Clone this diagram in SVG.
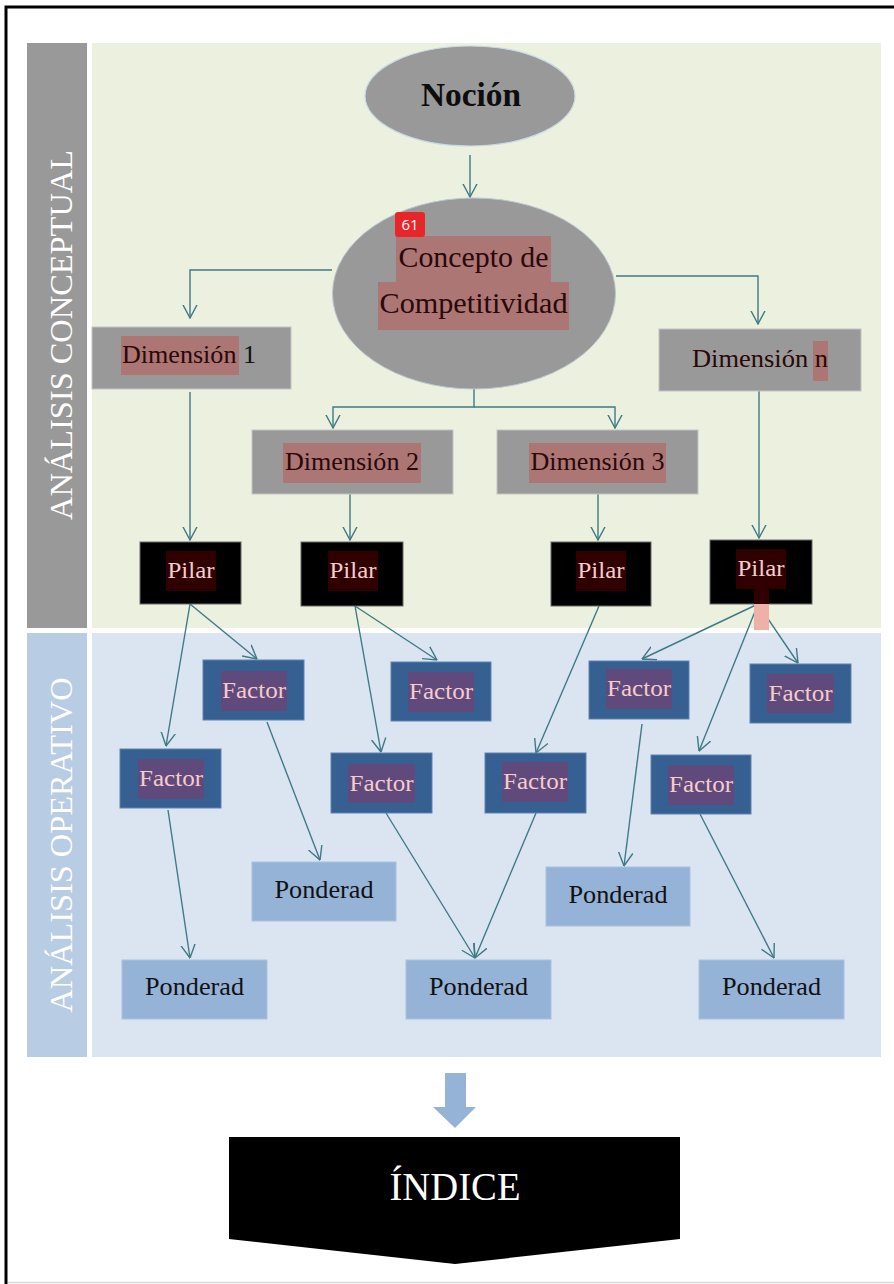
<svg xmlns="http://www.w3.org/2000/svg" width="894" height="1284" viewBox="0 0 894 1284">
  <defs>
    <marker id="vee" viewBox="0 0 14 16" markerWidth="14" markerHeight="16" refX="13.5" refY="8" orient="auto" markerUnits="userSpaceOnUse">
      <path d="M0,0.8 L13.5,8 L0,15.2" fill="none" stroke="#3f7a86" stroke-width="1.4"/>
    </marker>
  </defs>
  <style>
    .txt { font-family: "Liberation Serif", "DejaVu Serif", serif; }
    .dim { fill: #999999; stroke: #c4c4c4; stroke-width: 1; }
    .dimhl { fill: #ab7674; }
    .dimtx { font-size: 25px; fill: #2a0808; }
    .pilar { fill: #000000; stroke: #6b6b6b; stroke-width: 1; }
    .pilhl { fill: #300000; }
    .piltx { font-size: 24px; fill: #f4cdcd; }
    .factor { fill: #366092; stroke: #5f83ad; stroke-width: 1; }
    .fachl { fill: #604a7b; }
    .factx { font-size: 24px; fill: #f4cccc; }
    .pond { fill: #95b3d7; stroke: #a9c2e0; stroke-width: 1; }
    .pondtx { font-size: 25px; fill: #111111; }
    .conn path { fill: none; stroke: #3f7a86; stroke-width: 1.4; }
    .side { font-size: 31px; fill: #ffffff; }
  </style>

  <!-- page -->
  <rect x="0" y="0" width="894" height="1284" fill="#ffffff"/>
  <path d="M6,1284 V7 H894" fill="none" stroke="#000000" stroke-width="3"/>
  <line x1="8" y1="1282.5" x2="894" y2="1282.5" stroke="#d9d9d9" stroke-width="1.5"/>

  <!-- panels -->
  <g id="panel-conceptual">
    <rect x="27" y="43" width="60" height="585" fill="#999999"/>
    <rect x="92" y="43" width="789" height="585" fill="#ebf1de"/>
    <text class="txt side" transform="translate(72,335) rotate(-90)" text-anchor="middle" textLength="370" lengthAdjust="spacingAndGlyphs">ANÁLISIS CONCEPTUAL</text>
  </g>
  <g id="panel-operativo">
    <rect x="27" y="633" width="60" height="424" fill="#b8cce4"/>
    <rect x="92" y="633" width="789" height="424" fill="#dbe5f1"/>
    <text class="txt side" transform="translate(72,845) rotate(-90)" text-anchor="middle" textLength="335" lengthAdjust="spacingAndGlyphs" fill="#e4ecf6">ANÁLISIS OPERATIVO</text>
  </g>

  <!-- connectors -->
  <g id="connectors" class="conn">
    <path d="M470,155 V197" marker-end="url(#vee)"/>
    <path d="M332,270 H190 V318" marker-end="url(#vee)"/>
    <path d="M616,276 H758 V324" marker-end="url(#vee)"/>
    <path d="M474,389 V407 H333 V428" marker-end="url(#vee)"/>
    <path d="M474,407 H615 V428" marker-end="url(#vee)"/>
    <path d="M190,392 V540" marker-end="url(#vee)"/>
    <path d="M350,494 V540" marker-end="url(#vee)"/>
    <path d="M598,494 V540" marker-end="url(#vee)"/>
    <path d="M759,391 V538" marker-end="url(#vee)"/>
    <path d="M190,604 L166,746" marker-end="url(#vee)"/>
    <path d="M190,604 L257,659" marker-end="url(#vee)"/>
    <path d="M355,606 L381,752" marker-end="url(#vee)"/>
    <path d="M355,606 L437,660" marker-end="url(#vee)"/>
    <path d="M599,606 L536,753" marker-end="url(#vee)"/>
    <path d="M758,604 L642,659" marker-end="url(#vee)"/>
    <path d="M758,604 L699,751" marker-end="url(#vee)"/>
    <path d="M758,604 L798,663" marker-end="url(#vee)"/>
    <path d="M168,810 L190,958" marker-end="url(#vee)"/>
    <path d="M267,722 L320,860" marker-end="url(#vee)"/>
    <path d="M386,813 L475,958" marker-end="url(#vee)"/>
    <path d="M536,813 L475,958" marker-end="url(#vee)"/>
    <path d="M642,724 L624,866" marker-end="url(#vee)"/>
    <path d="M700,814 L774,958" marker-end="url(#vee)"/>
  </g>

  <!-- concept level -->
  <g id="nocion">
    <ellipse cx="470" cy="96" rx="105" ry="50" fill="#999999" stroke="#c9d9e6" stroke-width="1.2"/>
    <text class="txt" x="471" y="106" text-anchor="middle" font-size="33" font-weight="bold" fill="#0d0d0d" textLength="100" lengthAdjust="spacingAndGlyphs">Noción</text>
  </g>
  <g id="concepto">
    <ellipse cx="474" cy="293.5" rx="141.5" ry="95.5" fill="#999999" stroke="#b9c7cf" stroke-width="1"/>
    <rect x="396" y="236" width="155" height="47" class="dimhl"/>
    <rect x="378" y="282" width="191" height="48" class="dimhl"/>
    <text class="txt" x="473.5" y="267" text-anchor="middle" font-size="29" fill="#2a0808" textLength="150" lengthAdjust="spacingAndGlyphs">Concepto de</text>
    <text class="txt" x="473.5" y="313" text-anchor="middle" font-size="29" fill="#2a0808" textLength="188" lengthAdjust="spacingAndGlyphs">Competitividad</text>
    <rect x="395" y="212" width="30" height="25" rx="3" fill="#e8262a"/>
    <text x="410" y="230" text-anchor="middle" font-family="'Open Sans', 'DejaVu Sans', sans-serif" font-size="15" fill="#ffffff">61</text>
  </g>

  <!-- dimensions -->
  <g id="dim-1">
    <rect x="92" y="327" width="199" height="62" class="dim"/>
    <rect x="121" y="336" width="118" height="39" class="dimhl"/>
    <text class="txt dimtx" x="122" y="363" textLength="134" lengthAdjust="spacingAndGlyphs">Dimensión <tspan fill="#111111">1</tspan></text>
  </g>
  <g id="dim-n">
    <rect x="659" y="329" width="202" height="62" class="dim"/>
    <rect x="813" y="341" width="15" height="40" class="dimhl"/>
    <text class="txt dimtx" x="692" y="367" fill="#111111" textLength="136" lengthAdjust="spacingAndGlyphs">Dimensión <tspan fill="#2a0808">n</tspan></text>
  </g>
  <g id="dim-2">
    <rect x="252" y="430" width="201" height="64" class="dim"/>
    <rect x="283" y="443" width="138" height="40" class="dimhl"/>
    <text class="txt dimtx" x="352" y="470" text-anchor="middle" textLength="134" lengthAdjust="spacingAndGlyphs">Dimensión 2</text>
  </g>
  <g id="dim-3">
    <rect x="497" y="430" width="201" height="64" class="dim"/>
    <rect x="529" y="443" width="137" height="40" class="dimhl"/>
    <text class="txt dimtx" x="597.5" y="470" text-anchor="middle" textLength="134" lengthAdjust="spacingAndGlyphs">Dimensión 3</text>
  </g>

  <!-- pillars -->
  <g id="pilar-1">
    <rect x="140" y="542" width="101" height="62" class="pilar"/>
    <rect x="166" y="551" width="50" height="40" class="pilhl"/>
    <text class="txt piltx" x="191" y="578" text-anchor="middle" textLength="47" lengthAdjust="spacingAndGlyphs">Pilar</text>
  </g>
  <g id="pilar-2">
    <rect x="301" y="542" width="102" height="64" class="pilar"/>
    <rect x="328" y="551" width="50" height="40" class="pilhl"/>
    <text class="txt piltx" x="353" y="578" text-anchor="middle" textLength="47" lengthAdjust="spacingAndGlyphs">Pilar</text>
  </g>
  <g id="pilar-3">
    <rect x="551" y="542" width="100" height="64" class="pilar"/>
    <rect x="576" y="551" width="50" height="40" class="pilhl"/>
    <text class="txt piltx" x="601" y="578" text-anchor="middle" textLength="47" lengthAdjust="spacingAndGlyphs">Pilar</text>
  </g>
  <g id="pilar-n">
    <rect x="710" y="540" width="102" height="64" class="pilar"/>
    <rect x="736" y="549" width="50" height="40" class="pilhl"/>
    <rect x="754" y="589" width="15" height="15" class="pilhl"/>
    <rect x="754" y="604" width="15" height="26" fill="#eeb1a8"/>
    <text class="txt piltx" x="761" y="576" text-anchor="middle" textLength="47" lengthAdjust="spacingAndGlyphs">Pilar</text>
  </g>

  <!-- factors -->
  <g id="factor-1">
    <rect x="120" y="749" width="101" height="59" class="factor"/>
    <rect x="138" y="759" width="66" height="40" class="fachl"/>
    <text class="txt factx" x="171" y="786" text-anchor="middle" textLength="64" lengthAdjust="spacingAndGlyphs">Factor</text>
  </g>
  <g id="factor-2">
    <rect x="203" y="660" width="101" height="60" class="factor"/>
    <rect x="221" y="671" width="66" height="40" class="fachl"/>
    <text class="txt factx" x="254" y="698" text-anchor="middle" textLength="64" lengthAdjust="spacingAndGlyphs">Factor</text>
  </g>
  <g id="factor-3">
    <rect x="391" y="662" width="100" height="59" class="factor"/>
    <rect x="408" y="672" width="66" height="40" class="fachl"/>
    <text class="txt factx" x="441" y="699" text-anchor="middle" textLength="64" lengthAdjust="spacingAndGlyphs">Factor</text>
  </g>
  <g id="factor-4">
    <rect x="331" y="753" width="101" height="60" class="factor"/>
    <rect x="348" y="764" width="67" height="39" class="fachl"/>
    <text class="txt factx" x="381.5" y="791" text-anchor="middle" textLength="64" lengthAdjust="spacingAndGlyphs">Factor</text>
  </g>
  <g id="factor-5">
    <rect x="485" y="753" width="101" height="60" class="factor"/>
    <rect x="502" y="762" width="66" height="40" class="fachl"/>
    <text class="txt factx" x="535" y="789" text-anchor="middle" textLength="64" lengthAdjust="spacingAndGlyphs">Factor</text>
  </g>
  <g id="factor-6">
    <rect x="589" y="661" width="100" height="58" class="factor"/>
    <rect x="606" y="669" width="66" height="40" class="fachl"/>
    <text class="txt factx" x="639" y="696" text-anchor="middle" textLength="64" lengthAdjust="spacingAndGlyphs">Factor</text>
  </g>
  <g id="factor-7">
    <rect x="750" y="664" width="101" height="59" class="factor"/>
    <rect x="767" y="674" width="67" height="39" class="fachl"/>
    <text class="txt factx" x="800.5" y="701" text-anchor="middle" textLength="64" lengthAdjust="spacingAndGlyphs">Factor</text>
  </g>
  <g id="factor-8">
    <rect x="651" y="755" width="100" height="59" class="factor"/>
    <rect x="668" y="765" width="66" height="40" class="fachl"/>
    <text class="txt factx" x="701" y="792" text-anchor="middle" textLength="64" lengthAdjust="spacingAndGlyphs">Factor</text>
  </g>

  <!-- weightings -->
  <g id="ponderad-1">
    <rect x="122" y="960" width="145" height="59" class="pond"/>
    <text class="txt pondtx" x="194.5" y="995" text-anchor="middle" textLength="99" lengthAdjust="spacingAndGlyphs">Ponderad</text>
  </g>
  <g id="ponderad-2">
    <rect x="252" y="862" width="144" height="59" class="pond"/>
    <text class="txt pondtx" x="324" y="898" text-anchor="middle" textLength="99" lengthAdjust="spacingAndGlyphs">Ponderad</text>
  </g>
  <g id="ponderad-3">
    <rect x="406" y="960" width="145" height="59" class="pond"/>
    <text class="txt pondtx" x="478.5" y="995" text-anchor="middle" textLength="99" lengthAdjust="spacingAndGlyphs">Ponderad</text>
  </g>
  <g id="ponderad-4">
    <rect x="546" y="867" width="144" height="59" class="pond"/>
    <text class="txt pondtx" x="618" y="903" text-anchor="middle" textLength="99" lengthAdjust="spacingAndGlyphs">Ponderad</text>
  </g>
  <g id="ponderad-5">
    <rect x="699" y="960" width="145" height="59" class="pond"/>
    <text class="txt pondtx" x="771.5" y="995" text-anchor="middle" textLength="99" lengthAdjust="spacingAndGlyphs">Ponderad</text>
  </g>

  <!-- result -->
  <g id="flecha-indice">
    <path d="M445,1073 H466 V1107 H476 L455,1128 L433,1107 H445 Z" fill="#95b3d7"/>
  </g>
  <g id="indice">
    <path d="M229,1137 H680 V1239 L455,1264 L229,1239 Z" fill="#000000"/>
    <text class="txt" x="455" y="1200" text-anchor="middle" font-size="40" fill="#ffffff" textLength="131" lengthAdjust="spacingAndGlyphs">ÍNDICE</text>
  </g>
</svg>
